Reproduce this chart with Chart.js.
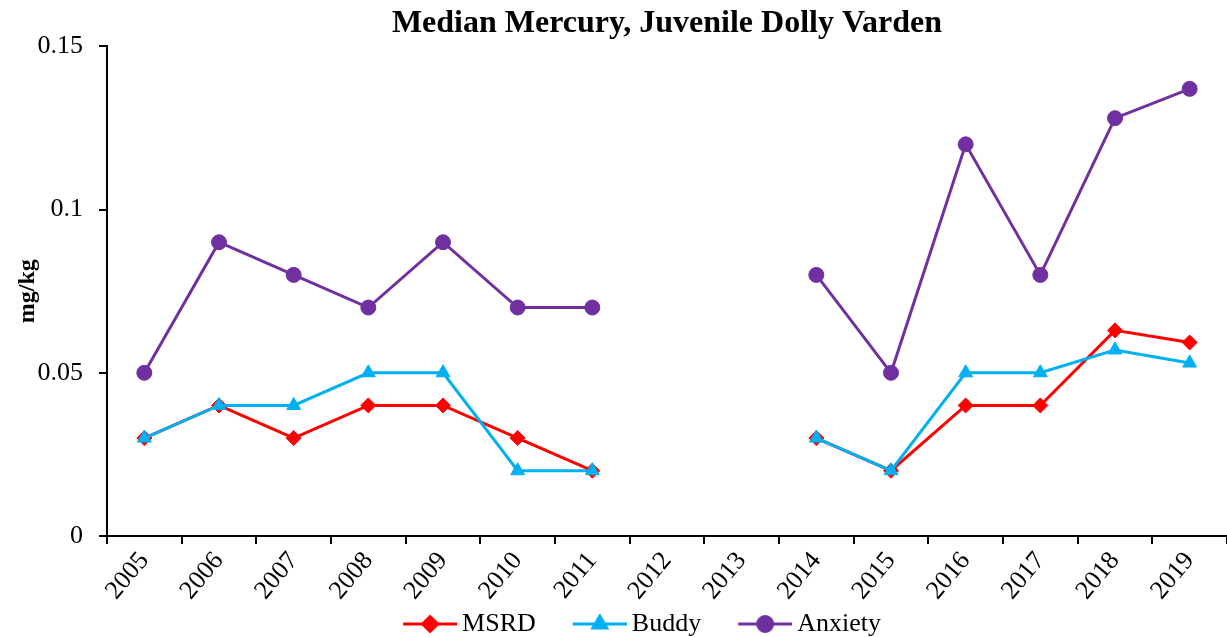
<!DOCTYPE html>
<html>
<head>
<meta charset="utf-8">
<script src="https://cdn.jsdelivr.net/npm/chart.js@4/dist/chart.umd.min.js"></script>
<style>
  html, body { margin: 0; padding: 0; background: #fff; }
  #wrap { width: 1227px; height: 637px; position: relative; }
</style>
</head>
<body>
<div id="wrap"><canvas id="c"></canvas></div>
<script>
const categories = ['2005','2006','2007','2008','2009','2010','2011','2012','2013','2014','2015','2016','2017','2018','2019'];
const msrd    = [0.03, 0.04, 0.03, 0.04, 0.04, 0.03, 0.02, null, null, 0.03, 0.02, 0.04, 0.04, 0.063, 0.0593];
const buddy   = [0.03, 0.04, 0.04, 0.05, 0.05, 0.02, 0.02, null, null, 0.03, 0.02, 0.05, 0.05, 0.057, 0.053];
const anxiety = [0.05, 0.09, 0.08, 0.07, 0.09, 0.07, 0.07, null, null, 0.08, 0.05, 0.12, 0.08, 0.128, 0.137];
const yTicks = [0, 0.05, 0.1, 0.15];
const yTickLabels = ['0', '0.05', '0.1', '0.15'];

const SERIF = "'Liberation Serif', 'Times New Roman', serif";

function legendIcon(color, style, radius) {
  const cv = document.createElement('canvas');
  cv.width = 97; cv.height = 20;
  const ctx = cv.getContext('2d');
  ctx.strokeStyle = color; ctx.fillStyle = color; ctx.lineWidth = 3;
  ctx.beginPath(); ctx.moveTo(43, 10); ctx.lineTo(97, 10); ctx.stroke();
  Chart.helpers.drawPoint(ctx, {pointStyle: style, radius: radius, borderWidth: 1, rotation: 0}, 70, 10);
  return cv;
}

const series = [
  {label: 'MSRD', data: msrd, color: '#FF0000', style: 'rectRot', r: 7.5, order: 3},
  {label: 'Buddy', data: buddy, color: '#00B0F0', style: 'triangle', r: 8, order: 2},
  {label: 'Anxiety', data: anxiety, color: '#7030A0', style: 'circle', r: 7.5, order: 1}
];
const icons = series.map(s => legendIcon(s.color, s.style, s.r));

new Chart(document.getElementById('c'), {
  type: 'line',
  data: {
    labels: categories,
    datasets: series.map(s => ({
      label: s.label,
      data: s.data,
      borderColor: s.color,
      backgroundColor: s.color,
      borderWidth: 3,
      pointStyle: s.style,
      pointRadius: s.r,
      pointHoverRadius: s.r,
      pointBorderWidth: 1,
      pointBackgroundColor: s.color,
      pointBorderColor: s.color,
      spanGaps: false,
      tension: 0,
      clip: false,
      order: s.order
    }))
  },
  options: {
    responsive: true,
    maintainAspectRatio: false,
    animation: false,
    layout: { autoPadding: false, padding: { left: 22, right: 0, top: 0, bottom: -10 } },
    plugins: {
      title: {
        display: true,
        text: 'Median Mercury, Juvenile Dolly Varden',
        color: '#000',
        font: { family: SERIF, size: 32, weight: 'bold' },
        padding: { top: 5, bottom: 3 },
        fullSize: false
      },
      legend: {
        display: true,
        position: 'bottom',
        labels: {
          color: '#000',
          font: { family: SERIF, size: 26 },
          usePointStyle: true,
          pointStyleWidth: 81,
          padding: 2,
          sort: (a, b) => a.datasetIndex - b.datasetIndex,
          generateLabels: (chart) => {
            const items = Chart.defaults.plugins.legend.labels.generateLabels(chart);
            items.forEach(it => { it.pointStyle = icons[it.datasetIndex]; });
            return items;
          }
        }
      },
      tooltip: { enabled: false }
    },
    scales: {
      x: {
        type: 'category',
        offset: true,
        grid: { offset: true, drawOnChartArea: false, drawTicks: true, tickLength: 8, color: '#000', lineWidth: 2 },
        border: { display: true, color: '#000', width: 2 },
        ticks: {
          color: '#000', font: { family: SERIF, size: 26 },
          minRotation: 50, maxRotation: 50, autoSkip: false, padding: 2
        },
        afterFit: (scale) => { scale.height = 73; scale.paddingLeft = 0; scale.paddingRight = 0; }
      },
      y: {
        min: 0, max: 0.15,
        afterBuildTicks: (scale) => { scale.ticks = yTicks.map(v => ({value: v})); },
        grid: { drawOnChartArea: false, drawTicks: true, tickLength: 8, color: '#000', lineWidth: 2 },
        border: { display: true, color: '#000', width: 2 },
        ticks: {
          color: '#000', font: { family: SERIF, size: 26 }, padding: 16,
          callback: (v) => { const i = yTicks.indexOf(v); return i >= 0 ? yTickLabels[i] : ''; }
        },
        title: {
          display: true, text: 'mg/kg', color: '#000',
          font: { family: SERIF, size: 24, weight: 'bold' },
          padding: { top: -9, bottom: 0 }
        },
        afterFit: (scale) => { scale.width = 85; }
      }
    }
  }
});
</script>
</body>
</html>
